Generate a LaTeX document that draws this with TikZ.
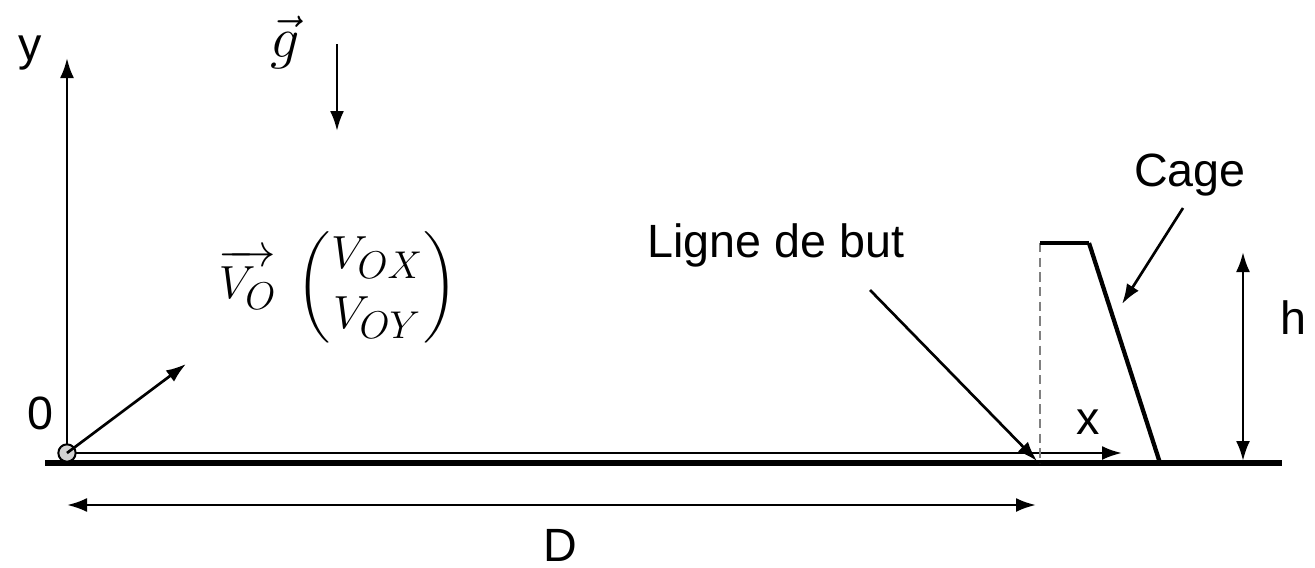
\documentclass[tikz,border=0pt]{standalone}
\usepackage{amsmath}
\usepackage{graphicx}
\usepackage{fontspec}
\setmainfont{Liberation Sans}
\usetikzlibrary{arrows.meta}
\tikzset{
  tip/.style={-{Latex[length=15pt,width=10.5pt]}},
  dtip/.style={{Latex[length=15pt,width=10.5pt]}-{Latex[length=15pt,width=10.5pt]}},
  lbl/.style={font=\fontsize{35}{40}\selectfont, inner sep=0pt},
  mlbl/.style={font=\Huge, inner sep=0pt},
  axis/.style={line width=2pt},
}
\begin{document}
\begin{tikzpicture}[x=0.75pt,y=-0.75pt]
\useasboundingbox (0,0) rectangle (1315,568);
% coordinates
\coordinate (O) at (67,453);
\coordinate (G1) at (45,463);
\coordinate (G2) at (1282,463);
\coordinate (Ytop) at (67,58);
\coordinate (Xs) at (1040,453);
\coordinate (Xe) at (1122,453);
\coordinate (Vend) at (186,364);
\coordinate (g1) at (337,44);
\coordinate (g2) at (337,131);
\coordinate (D1) at (67,505);
\coordinate (D2) at (1036,505);
\coordinate (h1) at (1243,252);
\coordinate (h2) at (1243,461);
\coordinate (cTL) at (1040,243);
\coordinate (cTR) at (1089,243);
\coordinate (cBR) at (1160,463);
\coordinate (cBL) at (1040,463);
\coordinate (LA1) at (870,290);
\coordinate (LA2) at (1037,461);
\coordinate (CA1) at (1183,208);
\coordinate (CA2) at (1122,304);
% ground
\draw[line width=4pt] (G1) -- (G2);
% x-axis
\draw[axis] (O) -- (Xs);
\draw[axis,tip] (Xs) -- (Xe);
% y-axis
\draw[axis,tip] (O) -- (Ytop);
% origin
\node[circle, draw, line width=1.5pt, fill=gray!35, minimum size=13pt, inner sep=0pt] (orig) at (O) {};
% velocity
\draw[axis,tip] (O) -- (Vend);
% gravity
\draw[axis,tip] (g1) -- (g2);
% cage
\draw[gray, line width=1.5pt, dash pattern=on 7pt off 4pt] (cTL) -- (cBL);
\draw[line width=3.2pt] (cTL) -- (cTR);
\draw[line width=3.2pt] (cTR) -- (cBR);
% D
\draw[axis,dtip] (D1) -- (D2);
% h
\draw[axis,dtip] (h1) -- (h2);
% pointer arrows
\draw[axis,tip] (LA1) -- (LA2);
\draw[axis,tip] (CA1) -- (CA2);
% labels
\node[lbl] (ylab) at (30,53) {y};
\node[lbl] (zlab) at (40,413) {0};
\node[lbl] (xlab) at (1088,422) {x};
\node[lbl] (Dlab) at (560,545) {D};
\node[lbl] (hlab) at (1293,318) {h};
\node[lbl] (lig) at (776,245) {Ligne de but};
\node[lbl] (cage) at (1190,175) {Cage};
\node[mlbl] (glab) at (285,42) {\scalebox{1.75}{$\vec{g}$}};
\node[mlbl] (vlab) at (338,287) {\scalebox{1.4}{$\overrightarrow{V_O}\ \begin{pmatrix} V_{OX}\\[2pt] V_{OY}\end{pmatrix}$}};
\end{tikzpicture}
\end{document}
